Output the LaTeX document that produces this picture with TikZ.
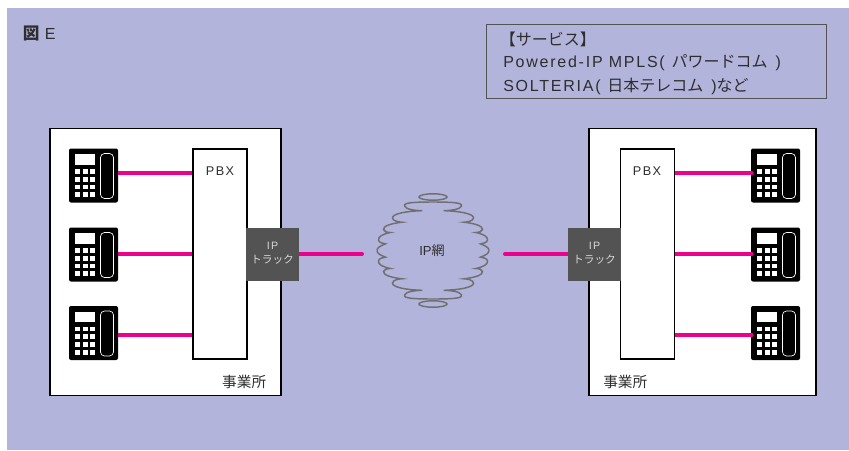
\documentclass[tikz,border=0pt]{standalone}
\usepackage{fontspec}
\setmainfont{Liberation Sans}
\newfontfamily\lsp[LetterSpace=11]{Liberation Sans}
\newfontfamily\jp{Noto Sans CJK JP}
\definecolor{bgc}{HTML}{B3B4DB}
\definecolor{mag}{HTML}{EC008C}
\definecolor{trk}{HTML}{535353}
\definecolor{txt}{HTML}{2E2E2E}
\definecolor{cld}{HTML}{707070}
\tikzset{
  office/.style={draw=black,fill=white,line width=1.1pt,minimum width=#1*0.75pt,minimum height=200pt,inner sep=0pt},
  pbxbox/.style={draw=black,fill=white,line width=1pt,minimum width=40.5pt,minimum height=157.5pt,inner sep=0pt},
  trkbox/.style={fill=trk,minimum width=39.75pt,minimum height=39.75pt,inner sep=0pt},
  phonebox/.style={fill=black,rounded corners=1.5pt,minimum width=36.75pt,minimum height=40.5pt,inner sep=0pt},
  link/.style={draw=mag,line width=3pt},
  lbl/.style={text=txt,inner sep=0pt},
  trktext/.style={text=white!85!black,inner sep=0pt},
  cloudline/.style={draw=cld,line width=1.1pt}
}
\newcommand\phoneparts[1]{%
  \begin{scope}[shift={(#1.center)}]
    \fill[white] (-18.5,-21.5) rectangle (1.5,-11);
    \foreach \kx in {-18.5,-11,-3.6}
      \foreach \ky in {-6.5,1.3,9,16.7}
        \fill[white] (\kx,\ky) rectangle ++(5,4.8);
    \draw[white,line width=0.5pt,rounded corners=3pt,fill=black] (7,-22) rectangle (20,23);
  \end{scope}}
\newcommand\cloudquarter{%
  \draw[cloudline] (0,-48.5) .. controls (-18,-48.5) and (-30,-48) .. (-28.5,-44.5)
    .. controls (-27,-41) and (-18,-40) .. (-10.7,-39.8)
    .. controls (-25,-39.5) and (-41,-37) .. (-40.5,-32.5)
    .. controls (-40,-29.5) and (-35,-28.5) .. (-31,-28.3)
    .. controls (-42,-27) and (-50,-24.5) .. (-49.5,-21)
    .. controls (-49.2,-18.8) and (-46,-18.2) .. (-42.7,-18)
    .. controls (-50,-16.5) and (-55,-14) .. (-54.5,-10.5)
    .. controls (-54.2,-8) and (-50.5,-7) .. (-47.5,-6.6)
    .. controls (-52,-5) and (-56,-3) .. (-56,0);}
\begin{document}
\begin{tikzpicture}[x=0.75pt,y=-0.75pt]
\useasboundingbox (0,0) rectangle (849,450);
\fill[white] (0,0) rectangle (849,450);
\fill[bgc] (7,8) rectangle (849,450);
% title
\node[lbl,anchor=west] (title) at (22.5,33) {{\jp\fontsize{12.5}{14}\selectfont\bfseries 図}\hspace{4pt}{\fontsize{12}{14}\selectfont E}};
% service box
\node[draw=trk,line width=0.8pt,minimum width=255pt,minimum height=56pt,inner sep=0pt] (svc) at (656.5,61.5) {};
\node[lbl,anchor=west] (s1) at (499.5,39) {\jp\fontsize{12}{14}\selectfont 【サービス】};
\node[lbl,anchor=west] (s2) at (503,63) {\fontsize{12}{14}\selectfont{\lsp Powered-IP MPLS(}\hspace{5pt}{\jp パワードコム}\hspace{6pt}{\lsp )}};
\node[lbl,anchor=west] (s3) at (503,86.5) {\fontsize{12}{14}\selectfont{\lsp SOLTERIA(}\hspace{5pt}{\jp 日本テレコム}\hspace{6pt}{\lsp )}{\jp など}};
% offices
\node[office=231] (ol) at (165.5,262) {};
\node[office=227] (or) at (702.5,262) {};
\node[lbl,anchor=east] (ol-t) at (266.5,382) {\jp\fontsize{11}{13}\selectfont 事業所};
\node[lbl,anchor=west] (or-t) at (603,382) {\jp\fontsize{11}{13}\selectfont 事業所};
% PBX
\node[pbxbox] (pbxl) at (220,254) {};
\node[pbxbox] (pbxr) at (647.5,254) {};
\node[lbl] (pbxl-t) at (220,171) {\fontsize{9.5}{11}\selectfont\lsp PBX};
\node[lbl] (pbxr-t) at (647,171) {\fontsize{9.5}{11}\selectfont\lsp PBX};
% phones
\foreach \n/\x/\y in {pl1/93.5/175.5,pl2/93.5/254.5,pl3/93.5/333,pr1/775.5/175.5,pr2/775.5/254.5,pr3/775.5/333}{
  \node[phonebox] (\n) at (\x,\y) {};
  \phoneparts{\n}
}
% IP trunks
\node[trkbox] (tl) at (272.5,254.5) {};
\node[trkbox] (tr) at (594.5,254.5) {};
\node[trktext] (tl-a) at (272.5,246) {\fontsize{8}{9}\selectfont\lsp IP};
\node[trktext] (tl-b) at (272.5,260) {\jp\fontsize{8}{9}\selectfont トラック};
\node[trktext] (tr-a) at (594.5,246) {\fontsize{8}{9}\selectfont\lsp IP};
\node[trktext] (tr-b) at (594.5,260) {\jp\fontsize{8}{9}\selectfont トラック};
% connectors inside offices
\foreach \a/\dy in {1/-2.5,2/-0.5,3/2}{
  \coordinate (pa\a) at ([yshift=-\dy*0.75pt]pl\a.east);
  \draw[link] (pa\a) -- (pa\a -| pbxl.west);
  \coordinate (pe\a) at ([xshift=0.75pt,yshift=-\dy*0.75pt]pr\a.west);
  \draw[link] (pe\a -| pbxr.east) -- (pe\a);
  \fill[mag] (pe\a) circle [radius=1.5pt];
}
% cloud
\coordinate (cc) at (433,250.5);
\begin{scope}[shift={(cc)}]
  \cloudquarter
  \begin{scope}[xscale=-1]\cloudquarter\end{scope}
  \begin{scope}[yscale=-1]\cloudquarter\end{scope}
  \begin{scope}[xscale=-1,yscale=-1]\cloudquarter\end{scope}
  \draw[cloudline] (0,-53.5) ellipse [x radius=14,y radius=3.2];
  \draw[cloudline] (0,53.5) ellipse [x radius=14,y radius=3.2];
\end{scope}
\node[lbl] (ipn) at (432,251) {\fontsize{9.8}{11}\selectfont IP\jp 網};
% links to cloud
\coordinate (cl) at (362,254);
\coordinate (cr) at (505,254);
\draw[link] (cl -| tl.east) -- (cl);
\fill[mag] (cl) circle [radius=1.5pt];
\draw[link] (cr -| tr.west) -- (cr);
\fill[mag] (cr) circle [radius=1.5pt];
\end{tikzpicture}
\end{document}
